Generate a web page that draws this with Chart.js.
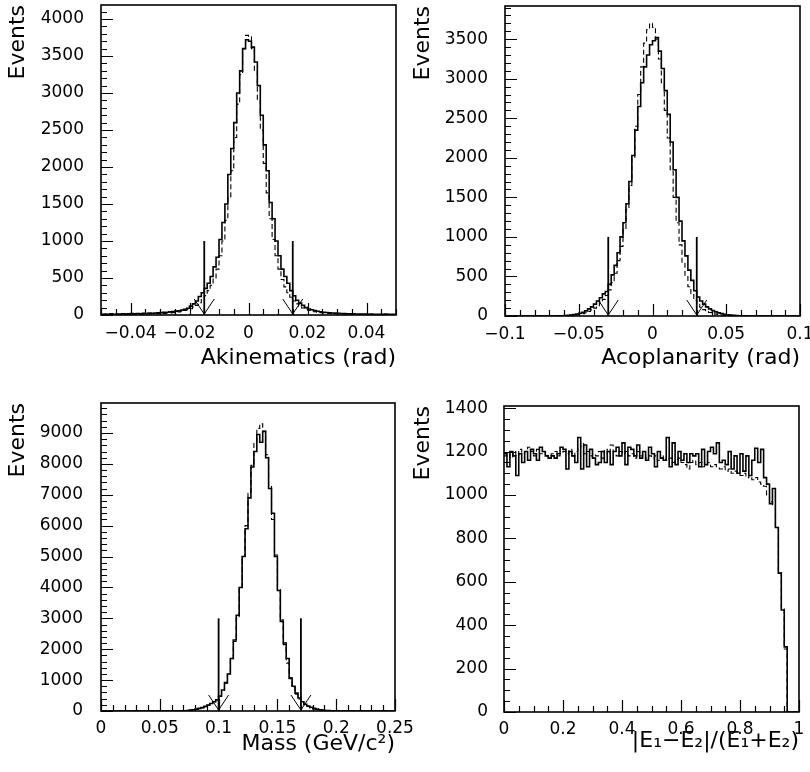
<!DOCTYPE html>
<html><head><meta charset="utf-8">
<script src="https://cdn.jsdelivr.net/npm/chart.js@4.4.0/dist/chart.umd.min.js"></script>
<style>
html,body{margin:0;padding:0;background:#fff;}
body{width:810px;height:772px;position:relative;overflow:hidden;}
canvas{position:absolute;}
</style></head><body>
<canvas id="c1" width="405" height="386" style="left:0;top:0;width:405px;height:386px"></canvas>
<canvas id="c2" width="405" height="386" style="left:405px;top:0;width:405px;height:386px"></canvas>
<canvas id="c3" width="420" height="386" style="left:0;top:386px;width:420px;height:386px"></canvas>
<canvas id="c4" width="405" height="386" style="left:405px;top:386px;width:405px;height:386px"></canvas>
<script>
// ---------- Panel 1: Akinematics (100 bins, -0.05 .. 0.05) ----------
const akiRange = [-0.05, 0.05];
const akiData = [10,12,8,15,10,14,12,16,13,15,
 18,15,20,17,22,20,25,24,28,30,
 32,35,38,42,45,52,58,66,78,92,
 120,150,190,250,300,360,430,520,650,780,
 1020,1250,1500,1900,2250,2600,3000,3300,3600,3720,
 3700,3620,3420,3100,2700,2300,1950,1520,1300,1000,
 800,620,520,430,330,260,200,160,130,100,
 82,70,60,50,44,38,34,30,27,25,
 22,20,18,17,15,16,14,13,12,14,
 11,12,10,11,9,10,12,9,10,8];
const akiMC = [5,6,5,7,6,8,7,8,9,8,
 10,9,11,10,12,13,14,15,16,18,
 20,22,25,28,32,36,42,50,60,70,
 85,105,130,165,210,260,330,400,500,620,
 800,1000,1280,1600,1950,2400,2850,3250,3600,3780,
 3760,3600,3300,2900,2500,2050,1650,1300,1020,800,
 620,480,380,300,240,190,150,120,95,78,
 64,52,44,38,32,28,24,21,19,17,
 15,14,13,12,11,10,9,9,8,8,
 7,7,6,6,6,5,5,5,4,4];
const akiCuts = [-0.015, 0.015];
const akiCutHeight = 1000;
const akiXTicks = [-0.04, -0.02, 0, 0.02, 0.04];
const akiXLabels = ['\u22120.04', '\u22120.02', '0', '0.02', '0.04'];
const akiYTicks = [0,500,1000,1500,2000,2500,3000,3500,4000];
const akiYMax = 4190;

// ---------- Panel 2: Acoplanarity (100 bins, -0.1 .. 0.1) ----------
const acoRange = [-0.1, 0.1];
const acoData = [0,0,0,0,0,0,0,0,0,0,
 0,0,0,0,0,0,0,1,2,3,
 5,8,12,18,25,35,48,65,90,115,
 150,190,230,280,310,400,520,640,800,1000,
 1180,1420,1700,2030,2350,2650,2950,3150,3300,3430,
 3480,3520,3350,3130,2850,2550,2200,1850,1500,1200,
 950,760,580,450,320,240,190,150,115,90,
 70,52,40,30,22,16,11,8,5,3,
 2,1,1,0,0,0,0,0,0,0,
 0,0,0,0,0,0,0,0,0,0];
const acoMC = [0,0,0,0,0,0,0,0,0,0,
 0,0,0,0,0,0,0,0,1,2,
 3,5,8,12,16,22,30,42,58,78,
 100,130,170,210,260,330,420,540,700,880,
 1100,1350,1650,2000,2400,2800,3150,3450,3620,3700,
 3650,3500,3250,2950,2600,2250,1850,1500,1180,900,
 680,500,370,270,200,150,110,80,60,45,
 33,24,17,12,8,5,3,2,1,1,
 0,0,0,0,0,0,0,0,0,0,
 0,0,0,0,0,0,0,0,0,0];
const acoCuts = [-0.03, 0.03];
const acoCutHeight = 1000;
const acoXTicks = [-0.1, -0.05, 0, 0.05, 0.1];
const acoXLabels = ['\u22120.1', '\u22120.05', '0', '0.05', '0.1'];
const acoYTicks = [0,500,1000,1500,2000,2500,3000,3500];
const acoYMax = 3920;

// ---------- Panel 3: Mass (100 bins, 0 .. 0.25) ----------
const massRange = [0, 0.25];
const massData = [0,0,0,0,0,0,0,0,0,0,
 0,0,0,0,0,0,0,0,0,0,
 0,0,0,0,0,2,4,6,10,18,
 28,42,60,85,115,150,195,245,300,360,
 480,680,920,1200,1700,2300,3100,4000,5000,5900,
 6900,7900,8400,8950,8700,9050,8200,7200,6400,5000,
 3900,2900,2200,1700,1050,800,580,420,300,220,
 160,120,85,60,40,28,18,12,8,5,
 3,2,1,0,0,0,0,0,0,0,
 0,0,0,0,0,0,0,0,0,0];
const massMC = [0,0,0,0,0,0,0,0,0,0,
 0,0,0,0,0,0,0,0,0,0,
 0,0,0,0,0,1,2,4,7,12,
 20,32,50,72,100,140,185,240,300,370,
 480,660,900,1200,1650,2250,3000,3950,5000,6000,
 7050,7950,8700,9150,9300,9050,8300,7300,6200,5050,
 3950,2950,2150,1550,1080,760,540,390,280,200,
 145,100,70,48,32,21,14,9,6,4,
 2,1,0,0,0,0,0,0,0,0,
 0,0,0,0,0,0,0,0,0,0];
const massCuts = [0.1, 0.17];
const massCutHeight = 3000;
const massXTicks = [0, 0.05, 0.1, 0.15, 0.2, 0.25];
const massXLabels = ['0', '0.05', '0.1', '0.15', '0.2', '0.25'];
const massYTicks = [0,1000,2000,3000,4000,5000,6000,7000,8000,9000];
const massYMax = 9970;

// ---------- Panel 4: |E1-E2|/(E1+E2) (100 bins, 0 .. 1) ----------
const asymRange = [0, 1];
const asymData = [1190,1130,1200,1180,1090,1190,1150,1200,1160,1210,
 1190,1160,1220,1200,1180,1170,1180,1170,1190,1220,
 1210,1120,1200,1180,1150,1265,1120,1230,1130,1210,
 1170,1140,1150,1200,1150,1200,1140,1200,1220,1180,
 1240,1140,1220,1210,1180,1230,1170,1200,1160,1220,
 1190,1130,1200,1170,1160,1265,1130,1240,1140,1200,
 1160,1190,1150,1190,1180,1190,1130,1210,1140,1200,
 1220,1190,1240,1150,1160,1140,1200,1120,1180,1100,
 1190,1110,1180,1090,1160,1215,1150,1210,1080,1050,
 960,1030,850,640,470,300,0,0,0,0];
const asymMC = [1180,1190,1170,1200,1180,1210,1190,1200,1220,1200,
 1180,1210,1190,1200,1180,1170,1190,1200,1180,1190,
 1200,1190,1210,1180,1200,1220,1240,1190,1200,1180,
 1190,1180,1200,1170,1210,1190,1230,1200,1180,1200,
 1190,1200,1180,1190,1170,1200,1180,1190,1170,1180,
 1170,1180,1160,1170,1180,1160,1170,1150,1160,1170,
 1150,1140,1120,1150,1160,1140,1150,1130,1140,1150,
 1130,1140,1130,1120,1130,1110,1120,1100,1110,1100,
 1090,1100,1080,1090,1070,1080,1060,1050,1040,1000,
 970,950,850,640,480,290,0,0,0,0];
const asymCuts = [];
const asymCutHeight = 0;
const asymXTicks = [0, 0.2, 0.4, 0.6, 0.8, 1];
const asymXLabels = ['0', '0.2', '0.4', '0.6', '0.8', '1'];
const asymYTicks = [0,200,400,600,800,1000,1200,1400];
const asymYMax = 1410;

// ---------- helpers ----------
Chart.defaults.font.family = "'DejaVu Sans', sans-serif";
Chart.defaults.color = '#000';

function histPoints(range, vals) {
  const n = vals.length, w = (range[1] - range[0]) / n;
  const pts = vals.map((v, i) => ({x: range[0] + i * w, y: v}));
  pts.push({x: range[1], y: vals[n - 1]});
  return pts;
}

const hbookPlugin = {
  id: 'hbook',
  afterDatasetsDraw(chart, args, opts) {
    const {ctx, chartArea: a} = chart;
    const xs = chart.scales.x, ys = chart.scales.y;
    ctx.save();
    ctx.strokeStyle = '#000';
    ctx.lineCap = 'butt';
    (opts.cuts || []).forEach(c => {
      const px = xs.getPixelForValue(c);
      const y0 = ys.getPixelForValue(0);
      const y1 = ys.getPixelForValue(opts.cutHeight);
      ctx.lineWidth = 1.8;
      ctx.beginPath(); ctx.moveTo(px, y0); ctx.lineTo(px, y1); ctx.stroke();
      ctx.lineWidth = 1;
      ctx.beginPath();
      ctx.moveTo(px - 10, y0 - 16); ctx.lineTo(px, y0 - 1); ctx.lineTo(px + 10, y0 - 16);
      ctx.stroke();
    });
    ctx.lineWidth = 1.2;
    const xMaj = xs.ticks.map(t => t.value), yMaj = ys.ticks.map(t => t.value);
    const near = (arr, v, s) => arr.some(m => Math.abs(m - v) < s * 1e-3);
    ctx.beginPath();
    for (let k = Math.ceil(xs.min / opts.minorX - 1e-6); k * opts.minorX <= xs.max + 1e-9; k++) {
      const v = k * opts.minorX;
      const len = near(xMaj, v, opts.minorX) ? 12 : 6;
      const p = Math.round(xs.getPixelForValue(v)) + 0.5;
      ctx.moveTo(p, a.bottom); ctx.lineTo(p, a.bottom - len);
    }
    for (let k = 0; k * opts.minorY <= ys.max; k++) {
      const v = k * opts.minorY;
      const len = near(yMaj, v, opts.minorY) ? 12 : 6;
      const p = Math.round(ys.getPixelForValue(v)) + 0.5;
      ctx.moveTo(a.left, p); ctx.lineTo(a.left + len, p);
    }
    ctx.stroke();
    ctx.lineWidth = 1.6;
    ctx.strokeRect(a.left, a.top, a.right - a.left, a.bottom - a.top);
    ctx.restore();
  }
};

function makeChart(id, c) {
  return new Chart(document.getElementById(id), {
    type: 'line',
    data: {datasets: [
      {data: histPoints(c.range, c.mc), borderColor: '#000', borderWidth: 1.1, borderDash: [5, 3],
       stepped: true, pointRadius: 0, fill: false, tension: 0},
      {data: histPoints(c.range, c.data), borderColor: '#000', borderWidth: 1.6,
       stepped: true, pointRadius: 0, fill: false, tension: 0}
    ]},
    options: {
      responsive: false, animation: false, devicePixelRatio: 1,
      layout: {padding: {top: c.padTop, right: c.padRight, left: 0, bottom: 0}},
      plugins: {
        legend: {display: false}, tooltip: {enabled: false},
        hbook: {cuts: c.cuts, cutHeight: c.cutHeight, minorX: c.minorX, minorY: c.minorY}
      },
      scales: {
        x: {
          type: 'linear', min: c.range[0], max: c.range[1],
          afterBuildTicks: s => { s.ticks = c.xTicks.map(v => ({value: v})); },
          afterFit: s => { s.height = c.xH; s.paddingLeft = 0; s.paddingRight = 0; },
          ticks: {callback: (v, i) => c.xLabels[i], autoSkip: false, maxRotation: 0, minRotation: 0,
                  padding: c.xTickPad, color: '#000', font: {size: 17}},
          grid: {display: false, drawTicks: false}, border: {display: false},
          title: {display: true, text: c.xTitle, align: 'end', color: '#000', font: {size: 22},
                  padding: {top: 0, bottom: c.xTitlePad}}
        },
        y: {
          type: 'linear', min: 0, max: c.ymax,
          afterBuildTicks: s => { s.ticks = c.yTicks.map(v => ({value: v})); },
          afterFit: s => { s.width = c.yW; s.paddingTop = 0; s.paddingBottom = 0; },
          ticks: {callback: (v, i) => String(c.yTicks[i]), autoSkip: false, padding: c.yTickPad,
                  color: '#000', font: {size: 17}},
          grid: {display: false, drawTicks: false}, border: {display: false},
          title: {display: true, text: 'Events', align: 'end', color: '#000', font: {size: 22},
                  padding: {top: 5, bottom: 0}}
        }
      }
    },
    plugins: [hbookPlugin]
  });
}

makeChart('c1', {range: akiRange, data: akiData, mc: akiMC, cuts: akiCuts, cutHeight: akiCutHeight,
  xTicks: akiXTicks, xLabels: akiXLabels, yTicks: akiYTicks, ymax: akiYMax,
  xTitle: 'Akinematics (rad)', padTop: 5, padRight: 9, yW: 101, xH: 71,
  xTickPad: 8, xTitlePad: 15, yTickPad: 17, minorX: 0.005, minorY: 100});
makeChart('c2', {range: acoRange, data: acoData, mc: acoMC, cuts: acoCuts, cutHeight: acoCutHeight,
  xTicks: acoXTicks, xLabels: acoXLabels, yTicks: acoYTicks, ymax: acoYMax,
  xTitle: 'Acoplanarity (rad)', padTop: 6, padRight: 10, yW: 100, xH: 70,
  xTickPad: 8, xTitlePad: 15, yTickPad: 17, minorX: 0.01, minorY: 100});
makeChart('c3', {range: massRange, data: massData, mc: massMC, cuts: massCuts, cutHeight: massCutHeight,
  xTicks: massXTicks, xLabels: massXLabels, yTicks: massYTicks, ymax: massYMax,
  xTitle: 'Mass (GeV/c\u00B2)', padTop: 17, padRight: 25, yW: 101, xH: 61,
  xTickPad: 7, xTitlePad: 15, yTickPad: 18, minorX: 0.01, minorY: 200});
makeChart('c4', {range: asymRange, data: asymData, mc: asymMC, cuts: asymCuts, cutHeight: asymCutHeight,
  xTicks: asymXTicks, xLabels: asymXLabels, yTicks: asymYTicks, ymax: asymYMax,
  xTitle: '|E\u2081\u2212E\u2082|/(E\u2081+E\u2082)', padTop: 20, padRight: 11, yW: 99, xH: 60,
  xTickPad: 7, xTitlePad: 18, yTickPad: 16, minorX: 0.05, minorY: 50});
</script>
</body></html>
